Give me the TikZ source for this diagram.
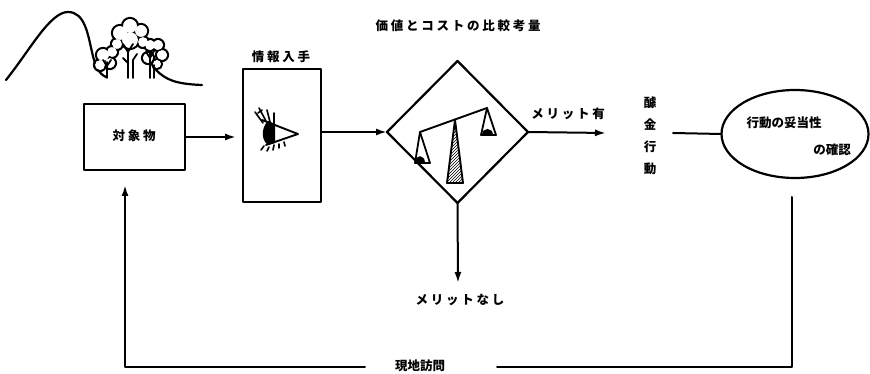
\documentclass[tikz,border=0pt]{standalone}
\usepackage{fontspec}
\newfontfamily\jp{Noto Sans CJK JP}
\newfontfamily\jpw[LetterSpace=22]{Noto Sans CJK JP}
\usetikzlibrary{arrows.meta,shapes.geometric,patterns}
\begin{document}
\begin{tikzpicture}[x=1pt,y=-1pt,
  line width=2pt, line join=round, line cap=round,
  lbl/.style={font=\jpw\bfseries\fontsize{12.5}{15}\selectfont, inner sep=0pt},
  lbltight/.style={font=\jp\bfseries\fontsize{12.5}{15}\selectfont, inner sep=0pt},
  box/.style={draw, line width=2.2pt, inner sep=0pt, outer sep=0pt},
  arr/.style={-{Latex[length=11pt,width=7pt]}},
  ]
\useasboundingbox (0,0) rectangle (870,374);

% --- hill and trees ---
\draw[line width=2.2pt] (6,80) .. controls (30,50) and (50,12) .. (68,12)
  .. controls (85,12) and (88,35) .. (92,52) .. controls (95,66) and (99,74) .. (106,77);
\draw[line width=2.2pt] (156,70) .. controls (166,80) and (176,84) .. (202,85);
\foreach \cx/\cy/\r in {120/33/8, 130/26/8, 141/31/7, 143/42/6, 117/44/6, 130/40/9,
    150/45/6, 158/45/6, 162/55/6, 157/64/5, 148/58/6,
    103/55/7, 112/52/6, 100/65/6, 110/63/6}
  \draw[line width=2.2pt] (\cx,\cy) circle[radius=\r pt];
\foreach \cx/\cy/\r in {120/33/8, 130/26/8, 141/31/7, 143/42/6, 117/44/6, 130/40/9,
    150/45/6, 158/45/6, 162/55/6, 157/64/5, 148/58/6,
    103/55/7, 112/52/6, 100/65/6, 110/63/6}
  \fill[white] (\cx,\cy) circle[radius=\r pt-1.1pt];
\draw[line width=1.8pt]
  (128,78) -- (128,50) (128,52) -- (123,44) (128,52) -- (133,44) (128,63) -- (123,58)
  (133,78) -- (133,60) -- (137,54)
  (107,78) -- (107,62) (107,66) -- (103,60) (107,66) -- (111,60)
  (150,78) -- (150,53) (150,58) -- (146,52) (150,58) -- (154,51) (154,78) -- (154,65);

% --- boxes and decision ---
\node[box, minimum width=101pt, minimum height=66pt] (obj) at (134.5,137) {};
\node[lbl] (objt) at (134,136) {対象物};
\node[box, minimum width=78pt, minimum height=133pt] (info) at (282,135.5) {};
\node[lbl] (infot) at (281,57) {情報入手};
\node[draw, diamond, line width=2.2pt, minimum width=141pt, minimum height=142pt,
  inner sep=0pt, outer sep=0pt] (dec) at (457.5,132) {};
\node[lbl] (title) at (458,26) {価値とコストの比較考量};

% eye
\draw[line width=1.9pt] (262,120) -- (298,134) -- (266,145);
\fill (268,121) .. controls (261,128) and (261,140) .. (268,145) -- (275,143) -- (275,124) -- cycle;
\draw[line width=1.6pt] (263,123) -- (255,112) (266,121) -- (259,108) (270,122) -- (267,110)
  (274,124) -- (274,113) (258,113) -- (262,110)
  (269,147) -- (267,151) (274,145) -- (273,150) (279,144) -- (279,148)
  (284,142) -- (285,146) (264,146) -- (261,150);

% balance
\draw[line width=1.9pt] (420,132) -- (487,108);
\draw[line width=1.9pt, pattern=north east lines] (455,120) -- (463,183) -- (447,183) -- cycle;
\draw[line width=1.8pt] (420,132) -- (415,163) -- (430,163) -- cycle;
\fill (415,163) .. controls (415,154) and (425,154) .. (425,163) -- cycle;
\draw[line width=1.8pt] (487,108) -- (481,135) -- (496,135) -- cycle;
\fill (482,135) .. controls (482,127) and (493,127) .. (493,135) -- cycle;

% --- right side ---
\node[lbl] (yes) at (568,114) {メリット有};
\node[font=\jp\bfseries\fontsize{12.5}{22}\selectfont, align=center, inner sep=0pt] (act) at (650,136)
  {醵\\金\\行\\動};
\node[draw, ellipse, line width=2.2pt, minimum width=147pt, minimum height=88pt,
  inner sep=0pt, outer sep=0pt] (chk) at (795,134) {};
\node[lbltight] (chk1) at (784,123) {行動の妥当性};
\node[lbltight] (chk2) at (832,150) {の確認};
\node[lbl] (no) at (460,300) {メリットなし};
\node[lbltight] (visit) at (420,366) {現地訪問};

% --- connectors ---
\coordinate (objend) at (236,137);
\coordinate (yesend) at (606,133);
\coordinate (actout) at (673,133);
\coordinate (noend) at (458,283);
\coordinate (fbtop) at (792,197);
\coordinate (fbright) at (497,367);
\coordinate (fbleft) at (365,367);
\coordinate (fbend) at (125,185);

\draw[arr] (obj.east |- objend) -- (objend);
\draw[arr] (info.east |- dec.west) -- (dec.west);
\draw[arr] (dec.east) -- (yesend);
\draw (actout) -- (chk.west);
\draw[arr] (dec.south) -- (noend);
\draw (fbtop) |- (fbright);
\draw[arr] (fbleft) -| (fbend);
\end{tikzpicture}
\end{document}
